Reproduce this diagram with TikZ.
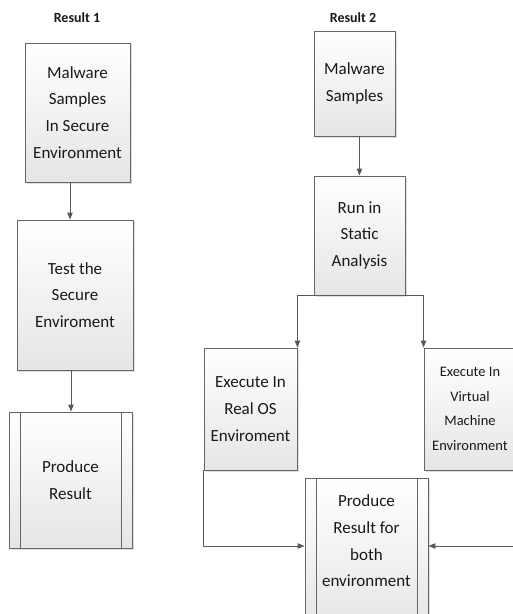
\documentclass[tikz,border=0pt]{standalone}
\usepackage{fontspec}
\setmainfont{Carlito}
\usetikzlibrary{arrows.meta,shadows}

\newcommand\boxfont{\fontsize{17}{26.7}\selectfont}
\newcommand\smallboxfont{\fontsize{14.5}{24.5}\selectfont}

\tikzset{
	flowbox/.style={draw=black!60, line width=0.9pt, top color=white, bottom color=black!10,
		inner sep=0pt, align=center, font=\boxfont, text=black!90,
		drop shadow={shadow xshift=1.5pt, shadow yshift=-1.5pt, opacity=0.25}},
	procbox/.style={flowbox, path picture={
		\draw[black!60, line width=0.9pt]
			([xshift=11.5pt]path picture bounding box.north west) -- ([xshift=11.5pt]path picture bounding box.south west)
			([xshift=-11pt]path picture bounding box.north east) -- ([xshift=-11pt]path picture bounding box.south east);}},
	title/.style={font=\fontsize{14}{16}\selectfont\bfseries, text=black!90},
	link/.style={draw=black!65, line width=0.9pt, -{Triangle[length=7pt, width=5.5pt]}}
}

\begin{document}
\begin{tikzpicture}[x=1pt, y=-1pt]
		\useasboundingbox (0,0) rectangle (513,614);
		\clip (0,0) rectangle (513,614);
		
		% Titles
		\node[title] (res1) at (77, 18) {Result 1};
		\node[title] (res2) at (353, 18) {Result 2};
		
		% Result 1 column
		\node[flowbox, minimum width=105pt, minimum height=139pt] (mal1) at (77.5, 112.5)
			{Malware\\Samples\\In Secure\\Environment};
		\node[flowbox, minimum width=116pt, minimum height=150pt] (test) at (75, 295)
			{Test the\\Secure\\Enviroment};
		\node[procbox, minimum width=123pt, minimum height=136pt] (prod1) at (70.5, 480)
			{Produce\\Result};
		
		% Result 2 column
		\node[flowbox, minimum width=81pt, minimum height=105pt] (mal2) at (354.5, 83.5)
			{Malware\\Samples};
		\node[flowbox, minimum width=91pt, minimum height=119pt] (run) at (359.5, 235.5)
			{Run in\\Static\\Analysis};
		\node[flowbox, minimum width=93pt, minimum height=122pt] (real) at (250.5, 409)
			{Execute In\\Real OS\\Enviroment};
		\node[flowbox, minimum width=92pt, minimum height=122pt, font=\smallboxfont] (virt) at (470, 409)
			{Execute In\\Virtual\\Machine\\Environment};
		\node[procbox, minimum width=123pt, minimum height=152pt] (both) at (366.5, 554) {};
		\node[align=center, font=\boxfont, text=black!90] (bothtext) at (366.5, 541)
			{Produce\\Result for\\both\\environment};
		
		% Connectors
		\draw[link] ([xshift=-7.5pt]mal1.south) -- ([xshift=-7.5pt]mal1.south |- test.north);
		\draw[link] ([xshift=-4pt]test.south) -- ([xshift=-4pt]test.south |- prod1.north);
		
		\draw[link] (mal2.south -| run.north) -- (run.north);
		\draw[link] (run.south) -| (real.north east);
		\draw[link] (run.south) -| (virt.north west);
		\draw[link] (real.south west) |- ([yshift=8pt]both.west);
		\draw[link] (virt.south east) |- ([yshift=8pt]both.east);
	\end{tikzpicture}
\end{document}
